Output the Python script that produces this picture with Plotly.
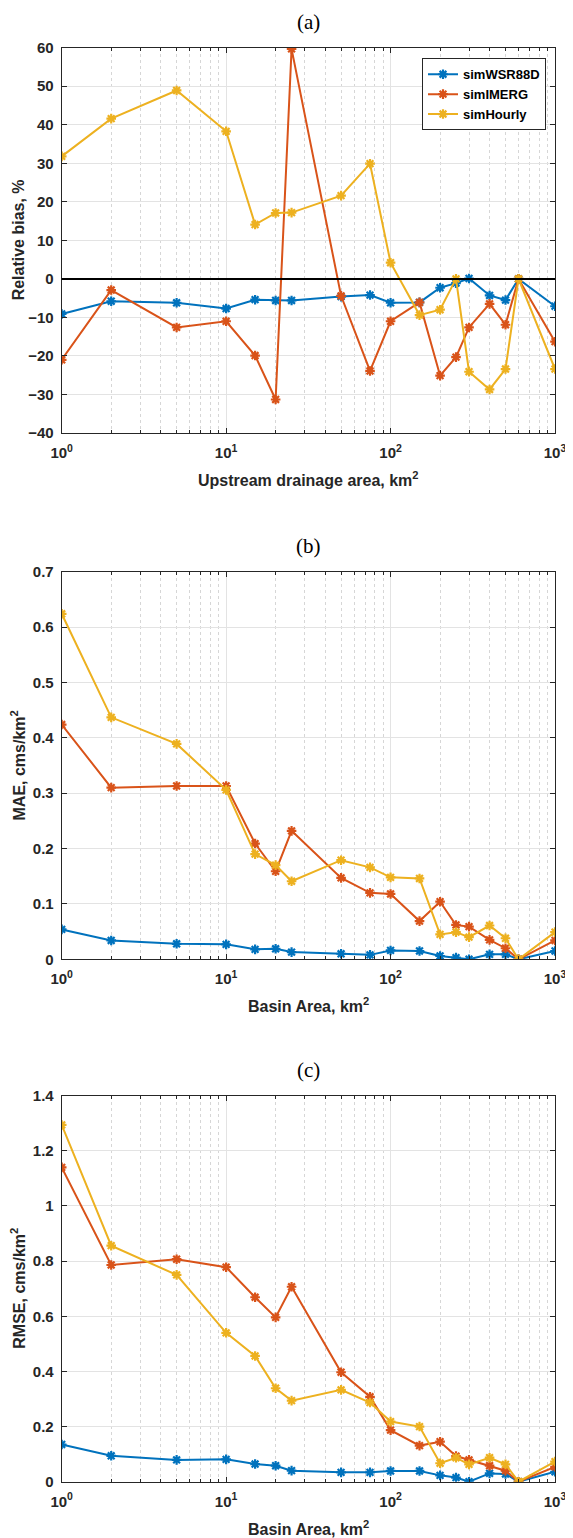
import plotly.graph_objects as go

area = [1, 2, 5, 10, 15, 20, 25, 50, 75, 100, 150, 200, 250, 300, 400, 500, 600, 1000]
series_names = ["simWSR88D", "simIMERG", "simHourly"]

bias_wsr = [-9.1, -5.8, -6.2, -7.7, -5.4, -5.6, -5.6, -4.6, -4.2, -6.2, -6.1, -2.3, -1.1, 0.1, -4.3, -5.5, 0.0, -7.1]
bias_imerg = [-21.0, -2.9, -12.6, -11.0, -19.9, -31.3, 59.7, -4.4, -23.9, -11.0, -6.1, -25.1, -20.3, -12.6, -6.5, -11.9, 0.0, -16.3]
bias_hourly = [31.8, 41.6, 48.9, 38.3, 14.1, 17.1, 17.2, 21.6, 29.9, 4.2, -9.4, -8.0, 0.0, -24.1, -28.7, -23.4, 0.0, -23.4]

mae_wsr = [0.054, 0.034, 0.028, 0.027, 0.018, 0.019, 0.013, 0.010, 0.008, 0.016, 0.015, 0.006, 0.003, 0.0, 0.009, 0.009, 0.0, 0.015]
mae_imerg = [0.424, 0.310, 0.313, 0.313, 0.209, 0.159, 0.232, 0.147, 0.120, 0.118, 0.069, 0.104, 0.062, 0.059, 0.035, 0.020, 0.0, 0.034]
mae_hourly = [0.624, 0.437, 0.389, 0.306, 0.190, 0.170, 0.141, 0.179, 0.166, 0.148, 0.146, 0.045, 0.049, 0.040, 0.061, 0.038, 0.0, 0.049]

rmse_wsr = [0.135, 0.094, 0.079, 0.081, 0.064, 0.058, 0.040, 0.034, 0.034, 0.039, 0.039, 0.023, 0.015, 0.0, 0.030, 0.028, 0.0, 0.036]
rmse_imerg = [1.140, 0.786, 0.807, 0.778, 0.669, 0.596, 0.707, 0.397, 0.308, 0.187, 0.131, 0.145, 0.093, 0.079, 0.058, 0.040, 0.0, 0.054]
rmse_hourly = [1.294, 0.856, 0.750, 0.540, 0.456, 0.339, 0.294, 0.333, 0.287, 0.218, 0.200, 0.067, 0.087, 0.063, 0.087, 0.063, 0.0, 0.073]

colors = ["#0072BD", "#D95319", "#EDB120"]

xtick_vals = [1, 10, 100, 1000]
xtick_text = ["10<sup>0</sup>", "10<sup>1</sup>", "10<sup>2</sup>", "10<sup>3</sup>"]
minor_vals = [m * d for d in [1, 10, 100] for m in range(2, 10)]

panel_titles = ["(a)", "(b)", "(c)"]
x_titles = ["Upstream drainage area, km<sup>2</sup>", "Basin Area, km<sup>2</sup>", "Basin Area, km<sup>2</sup>"]
y_titles = ["Relative bias, %", "MAE, cms/km<sup>2</sup>", "RMSE, cms/km<sup>2</sup>"]

y_ranges = [[-40, 60], [0, 0.7], [0, 1.4]]
y_dticks = [10, 0.1, 0.2]

# page body has an 8px margin: figure pixel = page pixel - 8
OFF = 8
W, H = 573 - OFF, 1538 - OFF
px_left, px_right = 61.7 - OFF, 555 - OFF
panel_px = [(47.7 - OFF, 433.0 - OFF), (571.7 - OFF, 959.3 - OFF), (1095.7 - OFF, 1481.7 - OFF)]

data = [
    [bias_wsr, bias_imerg, bias_hourly],
    [mae_wsr, mae_imerg, mae_hourly],
    [rmse_wsr, rmse_imerg, rmse_hourly],
]

fig = go.Figure()
font_sans = "Liberation Sans, Arial, sans-serif"

for p in range(3):
    sfx = "" if p == 0 else str(p + 1)
    for s in range(3):
        fig.add_trace(go.Scatter(
            x=area, y=data[p][s], mode="lines+markers", name=series_names[s],
            line=dict(color=colors[s], width=2),
            marker=dict(symbol="asterisk-open", size=8, color=colors[s],
                        line=dict(color=colors[s], width=2.2)),
            xaxis="x" + sfx, yaxis="y" + sfx, showlegend=(p == 0),
        ))

annotations = []
for p in range(3):
    sfx = "" if p == 0 else str(p + 1)
    top, bot = panel_px[p]
    xdom = [px_left / W, px_right / W]
    ydom = [1 - bot / H, 1 - top / H]
    axis_common = dict(
        showline=True, linecolor="#262626", linewidth=1, mirror="ticks",
        ticks="inside", ticklen=5, tickcolor="#262626",
        showgrid=True, gridcolor="#e3e3e3", gridwidth=1,
        tickfont=dict(family=font_sans, size=15, color="#262626", weight="bold"),
        zeroline=False, automargin=False,
    )
    fig.layout["xaxis" + sfx] = dict(
        type="log", range=[0, 3], domain=xdom, anchor="y" + sfx,
        tickvals=xtick_vals, ticktext=xtick_text, ticklabelstandoff=6,
        minor=dict(tickvals=minor_vals, ticks="inside", ticklen=3, tickcolor="#262626",
                   showgrid=True, gridcolor="#d6d6d6", griddash="dot", gridwidth=1),
        **axis_common,
    )
    fig.layout["yaxis" + sfx] = dict(
        range=y_ranges[p], domain=ydom, anchor="x" + sfx,
        dtick=y_dticks[p], tick0=0, ticklabelstandoff=4,
        **axis_common,
    )
    cx = (px_left + px_right) / 2 / W
    annotations.append(dict(text=panel_titles[p], x=cx, y=1 - (top - 26) / H,
                            xref="paper", yref="paper", showarrow=False,
                            xanchor="center", yanchor="middle",
                            font=dict(family="Liberation Serif, Times New Roman, serif", size=21, color="black")))
    annotations.append(dict(text=x_titles[p], x=cx, y=1 - (bot + 46) / H,
                            xref="paper", yref="paper", showarrow=False,
                            xanchor="center", yanchor="middle",
                            font=dict(family=font_sans, size=16, color="#262626", weight="bold")))
    annotations.append(dict(text=y_titles[p], x=(18 - OFF) / W, y=1 - (top + bot) / 2 / H,
                            xref="paper", yref="paper", showarrow=False, textangle=-90,
                            xanchor="center", yanchor="middle",
                            font=dict(family=font_sans, size=16, color="#262626", weight="bold")))

fig.add_hline(y=0, line=dict(color="black", width=2), xref="x", yref="y", layer="above")

fig.update_layout(
    width=W, height=H, margin=dict(l=0, r=0, t=0, b=0, autoexpand=False),
    paper_bgcolor="white", plot_bgcolor="white",
    annotations=annotations,
    legend=dict(x=(546 - OFF) / W, y=1 - (58.3 - OFF) / H, xanchor="right", yanchor="top",
                bgcolor="white", bordercolor="#262626", borderwidth=1,
                font=dict(family=font_sans, size=13, color="black", weight="bold"),
                tracegroupgap=0, itemwidth=30),
    showlegend=True,
)

fig.write_html("out.html")
